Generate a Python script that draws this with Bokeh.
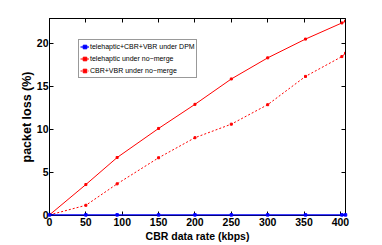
from bokeh.plotting import figure
from bokeh.models import Range1d, LinearAxis, FixedTicker, Legend, LegendItem
from bokeh.embed import file_html
from bokeh.resources import INLINE

# data
rate = [0, 50, 93, 150, 200, 250, 300, 352, 402, 407]
dpm_all = [0, 0, 0, 0, 0, 0, 0, 0, 0, 0]
tele_nomerge = [0, 3.54, 6.69, 10.08, 12.89, 15.85, 18.31, 20.5, 22.38, 22.6]
cbrvbr_nomerge = [0, 1.12, 3.62, 6.66, 9.0, 10.58, 12.85, 16.15, 18.46, 18.85]
x_ticks = [0, 50, 100, 150, 200, 250, 300, 350, 400]
y_ticks = [0, 5, 10, 15, 20]
labels = ["telehaptic+CBR+VBR under DPM", "telehaptic under no\u2212merge", "CBR+VBR under no\u2212merge"]

FONT = "Liberation Sans"

p = figure(width=374, height=244, output_backend="svg", toolbar_location=None,
           x_range=Range1d(0, 407), y_range=Range1d(-0.07, 22.9),
           min_border_left=49, min_border_right=29, min_border_top=18, min_border_bottom=27)
p.background_fill_color = "white"
p.border_fill_color = "white"
p.outline_line_color = "black"
p.outline_line_width = 1
p.xgrid.visible = False
p.ygrid.visible = False

r_t_l = p.line(rate, tele_nomerge, line_color="#ff0000", line_width=1)
r_t_m = p.scatter(rate, tele_nomerge, marker="square", size=2, color="#ff0000")
r_c_l = p.line(rate, cbrvbr_nomerge, line_color="#ff0000", line_width=1, line_dash="2 2")
r_c_m = p.scatter(rate, cbrvbr_nomerge, marker="square", size=2, color="#ff0000")
r_dpm_l = p.line(rate, dpm_all, line_color="#0000ff", line_width=1.2, level="overlay")
r_dpm_m = p.scatter(rate, dpm_all, marker="square", size=2.5, color="#0000ff", level="overlay")

for ax in (p.xaxis[0], p.yaxis[0]):
    ax.major_tick_in = 4
    ax.major_tick_out = 0
    ax.minor_tick_in = 0
    ax.minor_tick_out = 0
    ax.axis_line_color = "black"
    ax.major_label_text_font = FONT
    ax.major_label_text_font_style = "bold"
    ax.major_label_text_font_size = "10.5px"
    ax.major_label_text_color = "black"
    ax.axis_label_text_font = FONT
    ax.axis_label_text_font_style = "bold"
    ax.axis_label_text_color = "black"

p.xaxis[0].axis_label_text_font_size = "10.5px"
p.xaxis[0].major_label_standoff = 2
p.xaxis[0].axis_label_standoff = 1
p.yaxis[0].axis_label_text_font_size = "12.5px"
p.yaxis[0].major_label_standoff = 1
p.yaxis[0].axis_label_standoff = 0

p.xaxis[0].ticker = FixedTicker(ticks=x_ticks)
p.yaxis[0].ticker = FixedTicker(ticks=y_ticks)
p.xaxis[0].axis_label = "CBR data rate (kbps)"
p.yaxis[0].axis_label = "packet loss (%)"

for loc, ticks in (("above", x_ticks), ("right", y_ticks)):
    ax = LinearAxis(ticker=FixedTicker(ticks=ticks))
    ax.major_tick_in = 4
    ax.major_tick_out = 0
    ax.minor_tick_in = 0
    ax.minor_tick_out = 0
    ax.major_label_text_font_size = "0px"
    ax.major_label_text_color = None
    ax.major_label_standoff = 0
    ax.axis_line_color = "black"
    p.add_layout(ax, loc)

legend = Legend(items=[
    LegendItem(label=labels[0], renderers=[r_dpm_l, r_dpm_m]),
    LegendItem(label=labels[1], renderers=[r_t_l, r_t_m]),
    LegendItem(label=labels[2], renderers=[r_c_l, r_c_m]),
], location=(29, 137))
legend.label_text_font = FONT
legend.label_text_font_size = "7px"
legend.label_text_color = "black"
legend.label_height = 11
legend.glyph_height = 11
legend.glyph_width = 9
legend.label_standoff = 1
legend.spacing = 1
legend.padding = 1
legend.margin = 0
legend.border_line_color = "#333333"
legend.border_line_width = 1
legend.background_fill_color = "white"
p.add_layout(legend, "center")

open("out.html", "w").write(file_html(p, INLINE))
